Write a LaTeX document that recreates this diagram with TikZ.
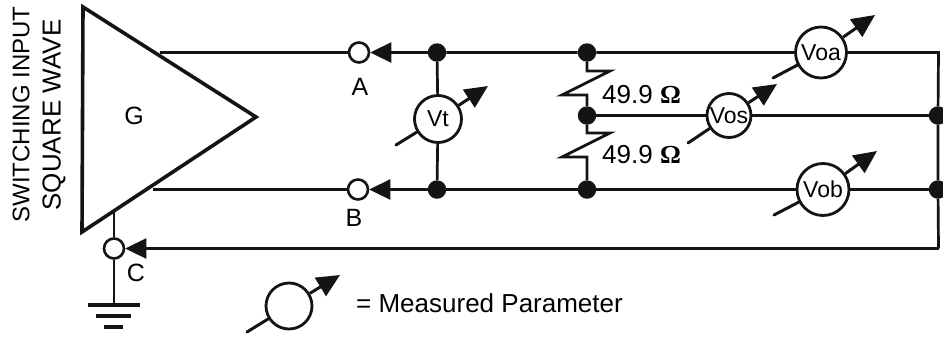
\documentclass[tikz,border=0pt]{standalone}
\usepackage{fontspec}
\setmainfont{Liberation Sans}
\newfontfamily\omegafont{Liberation Serif}
\usetikzlibrary{arrows.meta}
\tikzset{
  wire/.style={line width=2.7pt,black!92},
  thick wire/.style={line width=3.2pt,black!92},
  fwd/.style={wire,-{Triangle[length=21pt,width=20pt]}},
  probe/.style={line width=3pt,black!92,line cap=round},
  tipped/.style={line width=3pt,black!92,-{Triangle[length=23pt,width=21pt]}},
  term/.style={circle,draw=black!92,line width=2.6pt,fill=white,minimum size=20pt,inner sep=0pt},
  dotn/.style={circle,fill=black!92,minimum size=18.5pt,inner sep=0pt},
  meter/.style={circle,draw=black!92,line width=2.8pt,fill=white,minimum size=#1,inner sep=0pt,font=\fontsize{23}{24}\selectfont},
  lbl/.style={font=\fontsize{25}{27}\selectfont,inner sep=0pt},
  side/.style={inner sep=0pt,rotate=90}
}
\begin{document}
\begin{tikzpicture}[x=1pt,y=-1pt]
\useasboundingbox (0,0) rectangle (943,338);
% triangle
\draw[line width=3.6pt,black!92,line join=miter] (83,7) -- (256,117) -- (82,232) -- cycle;
\coordinate (gtop) at (160,52.5);
\coordinate (gbot) at (153,189.5);
\coordinate (gnd) at (114,211);
\coordinate (gndend) at (114,305);
\coordinate (cornerR) at (938.5,52.5);
\coordinate (cornerB) at (938.5,248.5);
\coordinate (rA1) at (587,71);
\coordinate (rA2) at (610,71);
\coordinate (rA3) at (562,95);
\coordinate (rA4) at (587,95);
\coordinate (rB1) at (587,133);
\coordinate (rB2) at (610,133);
\coordinate (rB3) at (562,157);
\coordinate (rB4) at (587,157);
\coordinate (g1a) at (88,305);\coordinate (g1b) at (140,305);
\coordinate (g2a) at (96,316);\coordinate (g2b) at (131,316);
\coordinate (g3a) at (104,327);\coordinate (g3b) at (123,327);
\coordinate (vtS) at (396,145);\coordinate (vtT) at (488,86);
\coordinate (vaS) at (773,78);\coordinate (vaT) at (875,15);
\coordinate (vsS) at (688,143);\coordinate (vsT) at (777,84);
\coordinate (vbS) at (774,215);\coordinate (vbT) at (877,151);
\coordinate (lgS) at (247,332);\coordinate (lgT) at (340,275);
% nodes
\node[term] (tA) at (359,52.5) {};
\node[term] (tB) at (358,189.5) {};
\node[term] (tC) at (114,248.5) {};
\node[dotn] (d1) at (437,52.5) {};
\node[dotn] (d2) at (437,189.5) {};
\node[dotn] (d3) at (587,52.5) {};
\node[dotn] (d4) at (587,115.5) {};
\node[dotn] (d5) at (587,189.5) {};
\node[dotn] (d6) at (938,115.5) {};
\node[dotn] (d7) at (938,189.5) {};
\node[meter=47pt] (vt) at (438,119) {Vt};
\node[meter=51pt] (voa) at (821,52.5) {Voa};
\node[meter=44pt] (vos) at (729,115.5) {Vos};
\node[meter=52pt] (vob) at (823,189.5) {Vob};
\node[meter=46pt] (lg) at (289,306) {};
% wires
\draw[wire] (gtop) -- (tA);
\draw[fwd] (d1) -- (tA);
\draw[wire] (d1) -- (d3) (d3) -- (voa) (voa) -- (cornerR) -- (d6) -- (d7) -- (cornerB);
\draw[wire] (gbot) -- (tB);
\draw[fwd] (d2) -- (tB);
\draw[wire] (d2) -- (d5) (d5) -- (vob) (vob) -- (d7);
\draw[fwd] (cornerB) -- (tC);
\draw[wire] (d4) -- (vos) (vos) -- (d6);
\draw[wire] (d1) -- (vt) (vt) -- (d2);
\draw[wire] (d3) -- (rA1) -- (rA2) -- (rA3) -- (rA4) -- (d4);
\draw[wire] (d4) -- (rB1) -- (rB2) -- (rB3) -- (rB4) -- (d5);
\draw[wire] (gnd) -- (tC) (tC) -- (gndend);
\draw[thick wire] (g1a) -- (g1b);
\draw[thick wire] (g2a) -- (g2b);
\draw[thick wire] (g3a) -- (g3b);
% probes
\draw[probe] (vtS) -- (vt); \draw[tipped] (vt) -- (vtT);
\draw[probe] (vaS) -- (voa); \draw[tipped] (voa) -- (vaT);
\draw[probe] (vsS) -- (vos); \draw[tipped] (vos) -- (vsT);
\draw[probe] (vbS) -- (vob); \draw[tipped] (vob) -- (vbT);
\draw[probe] (lgS) -- (lg); \draw[tipped] (lg) -- (lgT);
% labels
\node[lbl] (lG) at (134,116) {G};
\node[lbl] (la) at (360,87) {A};
\node[lbl] (lb) at (354,218) {B};
\node[lbl] (lc) at (136,273) {C};
\node[lbl,anchor=west,font=\fontsize{26}{28}\selectfont] (r1) at (602,95) {49.9 {\omegafont\bfseries Ω}};
\node[lbl,anchor=west,font=\fontsize{26}{28}\selectfont] (r2) at (602,155) {49.9 {\omegafont\bfseries Ω}};
\node[lbl,anchor=west,font=\fontsize{26}{28}\selectfont] (leg) at (356,303) {= Measured Parameter};
\node[side,font=\fontsize{24}{26}\selectfont] (s1) at (21,114.5) {SWITCHING INPUT};
\node[side,font=\fontsize{26}{28}\selectfont] (s2) at (54,115) {SQUARE WAVE};
\end{tikzpicture}
\end{document}
